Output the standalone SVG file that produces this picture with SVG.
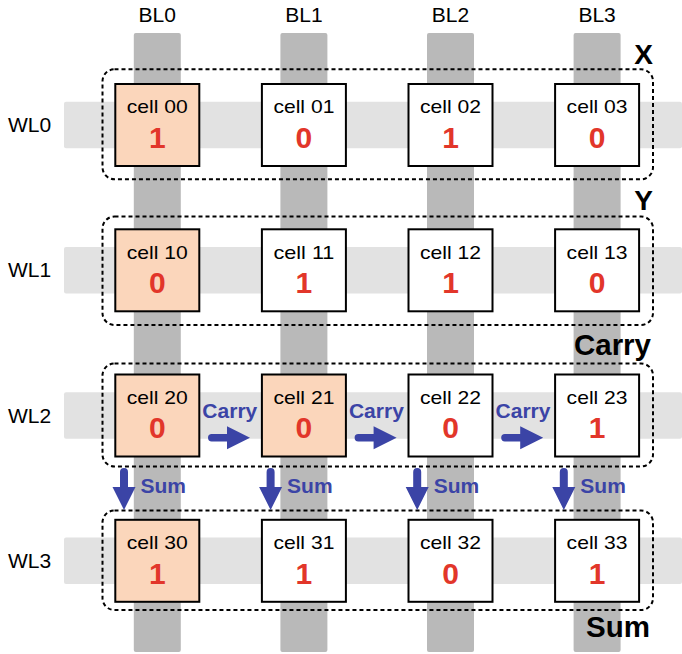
<svg xmlns="http://www.w3.org/2000/svg" xmlns:xlink="http://www.w3.org/1999/xlink" width="682" height="654" viewBox="0 0 682 654">
<style>
  .bl { fill: #b9b9b9; }
  .wl { fill: #e2e2e2; }
  .cell { stroke: #000; stroke-width: 2; }
  .on { fill: #fbd6bb; }
  .off { fill: #ffffff; }
  .ct { font-family: "Liberation Sans", Arial, sans-serif; font-size: 19px; fill: #000; text-anchor: middle; }
  .cv { font-family: "Liberation Sans", Arial, sans-serif; font-size: 30px; font-weight: bold; fill: #e2362a; text-anchor: middle; }
  .lab { font-family: "Liberation Sans", Arial, sans-serif; font-size: 21px; fill: #000; text-anchor: middle; }
  .grp { fill: none; stroke: #000; stroke-width: 2; stroke-dasharray: 4 3; }
  .big { font-family: "Liberation Sans", Arial, sans-serif; font-weight: bold; fill: #000; text-anchor: end; }
  .arrow { fill: #3b44a6; }
  .blue { font-family: "Liberation Sans", Arial, sans-serif; font-size: 21px; font-weight: bold; fill: #3b44a6; }
</style>
<defs>
  <path id="carryArrow" class="arrow" d="M3.7,-3.7 H19 V-11.5 L42,0 L19,11.5 V3.7 H3.7 A3.7,3.7 0 0 1 3.7,-3.7 Z"/>
  <path id="sumArrow" class="arrow" d="M-4,4 A4,4 0 0 1 4,4 V19 H11.5 L0,42 L-11.5,19 H-4 Z"/>
</defs>
<rect width="682" height="654" fill="#ffffff"/>

<g id="wordlines">
  <rect class="wl" x="64" y="101.7" width="618" height="46.6" rx="2"/>
  <rect class="wl" x="64" y="247" width="618" height="46.6" rx="2"/>
  <rect class="wl" x="64" y="392.2" width="618" height="46.6" rx="2"/>
  <rect class="wl" x="64" y="537.5" width="618" height="46.6" rx="2"/>
</g>
<g id="bitlines">
  <rect class="bl" x="133.8" y="33" width="47" height="619" rx="2"/>
  <rect class="bl" x="280.4" y="33" width="47" height="619" rx="2"/>
  <rect class="bl" x="427" y="33" width="47" height="619" rx="2"/>
  <rect class="bl" x="573.6" y="33" width="47" height="619" rx="2"/>
</g>

<g id="labels">
  <text class="lab" x="157.3" y="22">BL0</text>
  <text class="lab" x="303.9" y="22">BL1</text>
  <text class="lab" x="450.5" y="22">BL2</text>
  <text class="lab" x="597.1" y="22">BL3</text>
  <text class="lab" x="29.5" y="132">WL0</text>
  <text class="lab" x="29.5" y="277.3">WL1</text>
  <text class="lab" x="29.5" y="422.5">WL2</text>
  <text class="lab" x="29.5" y="567.8">WL3</text>
</g>

<g id="group-X">
  <rect class="grp" x="102.5" y="69.3" width="550.5" height="110" rx="12"/>
  <text class="big" x="653" y="64" font-size="28">X</text>
</g>
<g id="group-Y">
  <rect class="grp" x="102.5" y="216.5" width="550.5" height="108.5" rx="12"/>
  <text class="big" x="653" y="210" font-size="28">Y</text>
</g>
<g id="group-Carry">
  <rect class="grp" x="102.5" y="363.5" width="550.5" height="103" rx="12"/>
  <text class="big" x="651" y="355" font-size="29.5">Carry</text>
</g>
<g id="group-Sum">
  <rect class="grp" x="102.5" y="510.5" width="550.5" height="99.5" rx="12"/>
  <text class="big" x="650" y="637" font-size="29.5">Sum</text>
</g>

<g id="cell00"><rect class="cell on" x="115.3" y="84" width="84" height="82"/><text class="ct" x="157.3" y="113.3" textLength="61" lengthAdjust="spacingAndGlyphs">cell 00</text><text class="cv" x="157.3" y="147.7">1</text></g>
<g id="cell01"><rect class="cell off" x="261.9" y="84" width="84" height="82"/><text class="ct" x="303.9" y="113.3" textLength="61" lengthAdjust="spacingAndGlyphs">cell 01</text><text class="cv" x="303.9" y="147.7">0</text></g>
<g id="cell02"><rect class="cell off" x="408.5" y="84" width="84" height="82"/><text class="ct" x="450.5" y="113.3" textLength="61" lengthAdjust="spacingAndGlyphs">cell 02</text><text class="cv" x="450.5" y="147.7">1</text></g>
<g id="cell03"><rect class="cell off" x="555.1" y="84" width="84" height="82"/><text class="ct" x="597.1" y="113.3" textLength="61" lengthAdjust="spacingAndGlyphs">cell 03</text><text class="cv" x="597.1" y="147.7">0</text></g>

<g id="cell10"><rect class="cell on" x="115.3" y="229.3" width="84" height="82"/><text class="ct" x="157.3" y="258.6" textLength="61" lengthAdjust="spacingAndGlyphs">cell 10</text><text class="cv" x="157.3" y="293">0</text></g>
<g id="cell11"><rect class="cell off" x="261.9" y="229.3" width="84" height="82"/><text class="ct" x="303.9" y="258.6" textLength="61" lengthAdjust="spacingAndGlyphs">cell 11</text><text class="cv" x="303.9" y="293">1</text></g>
<g id="cell12"><rect class="cell off" x="408.5" y="229.3" width="84" height="82"/><text class="ct" x="450.5" y="258.6" textLength="61" lengthAdjust="spacingAndGlyphs">cell 12</text><text class="cv" x="450.5" y="293">1</text></g>
<g id="cell13"><rect class="cell off" x="555.1" y="229.3" width="84" height="82"/><text class="ct" x="597.1" y="258.6" textLength="61" lengthAdjust="spacingAndGlyphs">cell 13</text><text class="cv" x="597.1" y="293">0</text></g>

<g id="cell20"><rect class="cell on" x="115.3" y="374.5" width="84" height="82"/><text class="ct" x="157.3" y="403.8" textLength="61" lengthAdjust="spacingAndGlyphs">cell 20</text><text class="cv" x="157.3" y="438.2">0</text></g>
<g id="cell21"><rect class="cell on" x="261.9" y="374.5" width="84" height="82"/><text class="ct" x="303.9" y="403.8" textLength="61" lengthAdjust="spacingAndGlyphs">cell 21</text><text class="cv" x="303.9" y="438.2">0</text></g>
<g id="cell22"><rect class="cell off" x="408.5" y="374.5" width="84" height="82"/><text class="ct" x="450.5" y="403.8" textLength="61" lengthAdjust="spacingAndGlyphs">cell 22</text><text class="cv" x="450.5" y="438.2">0</text></g>
<g id="cell23"><rect class="cell off" x="555.1" y="374.5" width="84" height="82"/><text class="ct" x="597.1" y="403.8" textLength="61" lengthAdjust="spacingAndGlyphs">cell 23</text><text class="cv" x="597.1" y="438.2">1</text></g>

<g id="cell30"><rect class="cell on" x="115.3" y="519.8" width="84" height="82"/><text class="ct" x="157.3" y="549.1" textLength="61" lengthAdjust="spacingAndGlyphs">cell 30</text><text class="cv" x="157.3" y="583.5">1</text></g>
<g id="cell31"><rect class="cell off" x="261.9" y="519.8" width="84" height="82"/><text class="ct" x="303.9" y="549.1" textLength="61" lengthAdjust="spacingAndGlyphs">cell 31</text><text class="cv" x="303.9" y="583.5">1</text></g>
<g id="cell32"><rect class="cell off" x="408.5" y="519.8" width="84" height="82"/><text class="ct" x="450.5" y="549.1" textLength="61" lengthAdjust="spacingAndGlyphs">cell 32</text><text class="cv" x="450.5" y="583.5">0</text></g>
<g id="cell33"><rect class="cell off" x="555.1" y="519.8" width="84" height="82"/><text class="ct" x="597.1" y="549.1" textLength="61" lengthAdjust="spacingAndGlyphs">cell 33</text><text class="cv" x="597.1" y="583.5">1</text></g>

<g id="connectors">
  <use xlink:href="#carryArrow" x="208" y="437.7"/>
  <use xlink:href="#carryArrow" x="354.6" y="437.7"/>
  <use xlink:href="#carryArrow" x="501.2" y="437.7"/>
  <text class="blue" x="229.8" y="418" text-anchor="middle">Carry</text>
  <text class="blue" x="376.4" y="418" text-anchor="middle">Carry</text>
  <text class="blue" x="523" y="418" text-anchor="middle">Carry</text>
  <use xlink:href="#sumArrow" x="124" y="468"/>
  <use xlink:href="#sumArrow" x="270.6" y="468"/>
  <use xlink:href="#sumArrow" x="417.2" y="468"/>
  <use xlink:href="#sumArrow" x="563.8" y="468"/>
  <text class="blue" x="140.5" y="492.7">Sum</text>
  <text class="blue" x="287.1" y="492.7">Sum</text>
  <text class="blue" x="433.7" y="492.7">Sum</text>
  <text class="blue" x="580.3" y="492.7">Sum</text>
</g>
</svg>
